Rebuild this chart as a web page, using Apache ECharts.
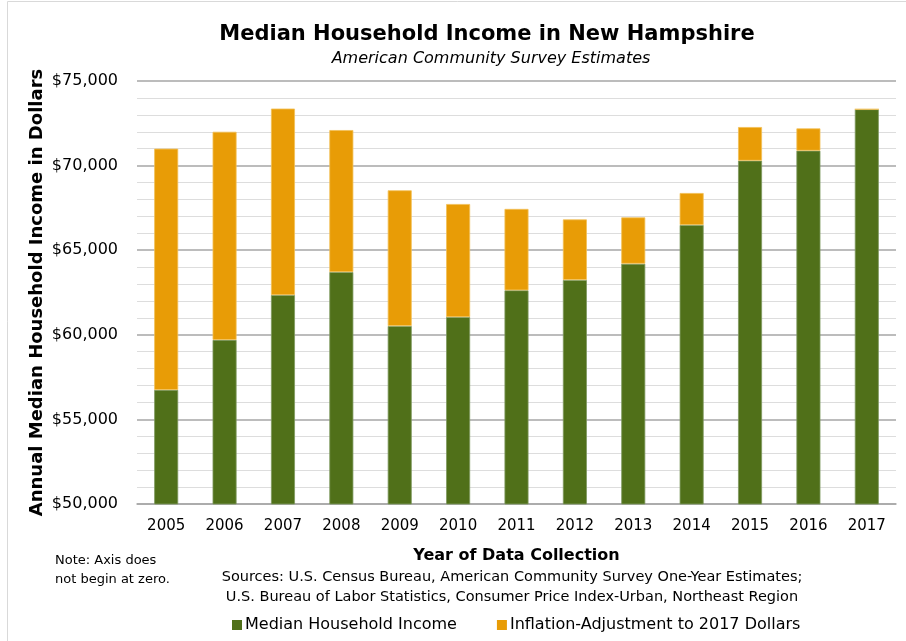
<!DOCTYPE html>
<html>
<head>
<meta charset="utf-8">
<script src="https://cdn.jsdelivr.net/npm/echarts@6/dist/echarts.min.js"></script>
<style>
  html, body { margin: 0; padding: 0; background: #fff; }
  #chart { width: 906px; height: 641px; }
</style>
</head>
<body>
<div id="chart"></div>
<script>
// data
var years = ['2005', '2006', '2007', '2008', '2009', '2010', '2011', '2012', '2013', '2014', '2015', '2016', '2017'];
var medianIncome = [56740, 59700, 62350, 63710, 60520, 61050, 62630, 63240, 64200, 66490, 70290, 70880, 73330];
var inflationAdj = [14260, 12300, 11020, 8390, 8020, 6680, 4810, 3580, 2740, 1890, 1990, 1320, 0];

var green = '#507019';
var orange = '#E89C06';
var font = 'DejaVu Sans';

var myChart = echarts.init(document.getElementById('chart'));

var option = {
  animation: false,
  textStyle: { fontFamily: font },
  title: [
    {
      text: 'Median Household Income in New Hampshire',
      left: 482, top: 19, textAlign: 'center',
      textStyle: { fontFamily: font, fontSize: 21, fontWeight: 'bold', color: '#000' }
    },
    {
      text: 'American Community Survey Estimates',
      left: 486, top: 46, textAlign: 'center',
      textStyle: { fontFamily: font, fontSize: 16, fontStyle: 'italic', fontWeight: 'normal', color: '#000' }
    }
  ],
  graphic: [
    {
      type: 'rect', shape: { x: 7.5, y: 1.5, width: 905, height: 645 },
      style: { fill: 'none', stroke: '#D9D9D9', lineWidth: 1 }, silent: true
    },
    {
      type: 'text', left: 55, top: 551,
      style: { text: 'Note: Axis does\nnot begin at zero.', font: '13px "DejaVu Sans"', fill: '#000', lineHeight: 19 }
    },
    {
      type: 'text',
      style: {
        text: 'Sources: U.S. Census Bureau, American Community Survey One-Year Estimates;\nU.S. Bureau of Labor Statistics, Consumer Price Index-Urban, Northeast Region',
        font: '14.5px "DejaVu Sans"', fill: '#000', align: 'center', verticalAlign: 'top',
        lineHeight: 20, x: 512, y: 567
      }
    }
  ],
  legend: {
    bottom: 3, left: 227,
    itemWidth: 10, itemHeight: 10, itemGap: 40,
    icon: 'rect',
    itemStyle: { borderWidth: 0 },
    textStyle: { fontFamily: font, fontSize: 16, color: '#000', padding: [0, 0, 0, -2] },
    data: ['Median Household Income', 'Inflation-Adjustment to 2017 Dollars']
  },
  grid: { left: 137, right: 10, top: 81, bottom: 137 },
  xAxis: {
    type: 'category',
    data: years,
    name: 'Year of Data Collection',
    nameLocation: 'middle',
    nameGap: 44,
    nameTextStyle: { fontFamily: font, fontSize: 16, fontWeight: 'bold', color: '#000' },
    axisLine: { lineStyle: { color: '#A6A6A6', width: 1.5 } },
    axisTick: { show: false },
    axisLabel: { fontSize: 15, color: '#000', margin: 15 }
  },
  yAxis: {
    type: 'value',
    min: 50000, max: 75000, interval: 5000,
    name: 'Annual Median Household Income in Dollars',
    nameLocation: 'middle',
    nameGap: 91,
    nameRotate: 90,
    nameMoveOverlap: false,
    nameTextStyle: { fontFamily: font, fontSize: 18, fontWeight: 'bold', color: '#000' },
    axisLine: { show: false },
    axisTick: { show: false },
    axisLabel: {
      fontSize: 16, color: '#000', margin: 19,
      formatter: function (v) { return '$' + v.toLocaleString('en-US'); }
    },
    splitLine: { lineStyle: { color: '#A6A6A6', width: 1.5 } },
    minorTick: { show: false, splitNumber: 5 },
    minorSplitLine: { show: true, lineStyle: { color: '#DDDDDD', width: 1.2 } }
  },
  series: [
    {
      name: 'Median Household Income',
      type: 'bar', stack: 'total', barWidth: 24,
      itemStyle: { color: green, borderColor: '#7F9960', borderWidth: 0.8 },
      data: medianIncome
    },
    {
      name: 'Inflation-Adjustment to 2017 Dollars',
      type: 'bar', stack: 'total', barWidth: 24,
      itemStyle: { color: orange, borderColor: '#F2C058', borderWidth: 0.8 },
      data: inflationAdj
    }
  ]
};

myChart.setOption(option);
</script>
</body>
</html>
